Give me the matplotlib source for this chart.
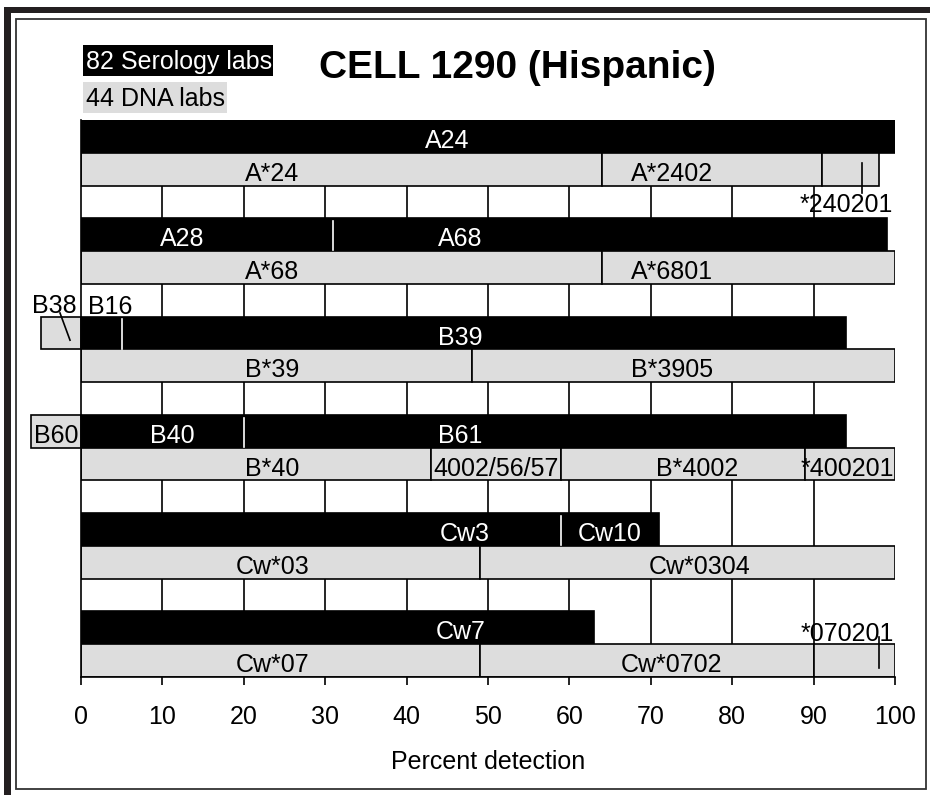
import matplotlib.pyplot as plt
from matplotlib.patches import Rectangle

plt.rcParams['font.family'] = ['Liberation Sans', 'DejaVu Sans']

W, H = 930, 795
GRAY = '#dddddd'
LW = 1.2
FS = 18

ticks = list(range(0, 101, 10))

# serology rows (black bars): band index, segment edges, labels, label x
sero_band = [0, 3, 6, 9, 12, 15]
sero_edges = [[0, 100], [0, 31, 99], [0, 5, 94], [0, 20, 94], [0, 59, 71], [0, 63]]
sero_labels = [["A24"], ["A28", "A68"], ["", "B39"], ["B40", "B61"], ["Cw3", "Cw10"], ["Cw7"]]
sero_label_x = [[45], [12.4, 46.6], [0, 46.6], [11.2, 46.6], [47.2, 65], [46.6]]

# DNA rows (grey bars)
dna_band = [1, 4, 7, 10, 13, 16]
dna_edges = [[0, 64, 91, 98], [0, 64, 100], [0, 48, 100], [0, 43, 59, 89, 100],
             [0, 49, 100], [0, 49, 90, 100]]
dna_labels = [["A*24", "A*2402", ""], ["A*68", "A*6801"], ["B*39", "B*3905"],
              ["B*40", "4002/56/57", "B*4002", "*400201"], ["Cw*03", "Cw*0304"],
              ["Cw*07", "Cw*0702", ""]]
dna_label_x = [[23.5, 72.6, 0], [23.5, 72.6], [23.5, 72.6], [23.5, 51, 75.7, 94.2],
               [23.5, 76], [23.5, 72.6, 0]]

# small grey boxes left of zero
side_band = [6, 9]
side_start = [-4.9, -6.2]
side_labels = ["", "B60"]

# labels outside the bars, and their leader lines
out_labels = ["*240201", "B38", "B16", "*070201"]
out_x = [94, -3.3, 3.6, 94.2]
out_y = [2.6, 5.67, 5.72, 15.7]
leader_x = [(96, 96), (-2.58, -1.35), (98, 98)]
leader_y = [(1.31, 2.23), (5.89, 6.72), (15.78, 16.73)]

fig = plt.figure(figsize=(W / 100, H / 100), dpi=100)

def fx(px):
    return px / W

def fy(py):
    return 1 - py / H

# frame
fig.add_artist(Rectangle((fx(4), fy(13)), fx(926), 6 / H, transform=fig.transFigure,
                         facecolor='#231f20', edgecolor='none'))
fig.add_artist(Rectangle((fx(4), 0), 7 / W, fy(7), transform=fig.transFigure,
                         facecolor='#231f20', edgecolor='none'))
fig.add_artist(Rectangle((fx(16), fy(789)), fx(910), 770 / H, transform=fig.transFigure,
                         facecolor='none', edgecolor='#333333', linewidth=1.3))

ax = fig.add_axes([fx(81), fy(677), fx(814), 557 / H])
ax.set_xlim(0, 100)
ax.set_ylim(17, 0)

ax.vlines(ticks[1:-1], 0, 17, colors='black', linewidth=LW, zorder=0)

for band, edges, labs, lx in zip(sero_band, sero_edges, sero_labels, sero_label_x):
    ax.barh(band + 0.5, edges[-1] - edges[0], left=edges[0], height=1, color='black',
            edgecolor='black', linewidth=LW, zorder=2)
    for e in edges[1:-1]:
        ax.plot([e, e], [band + 0.08, band + 0.98], color='white', linewidth=LW, zorder=3)
    for t, x in zip(labs, lx):
        if t:
            ax.text(x, band + 0.64, t, color='white', fontsize=FS, ha='center', va='center', zorder=4)

for band, edges, labs, lx in zip(dna_band, dna_edges, dna_labels, dna_label_x):
    for i in range(len(edges) - 1):
        ax.barh(band + 0.5, edges[i + 1] - edges[i], left=edges[i], height=1, color=GRAY,
                edgecolor='black', linewidth=LW, zorder=2)
    for t, x in zip(labs, lx):
        if t:
            ax.text(x, band + 0.64, t, color='black', fontsize=FS, ha='center', va='center', zorder=4)

for band, s, t in zip(side_band, side_start, side_labels):
    ax.barh(band + 0.5, -s, left=s, height=1, color=GRAY, edgecolor='black',
            linewidth=LW, zorder=2, clip_on=False)
    if t:
        ax.text(s / 2, band + 0.64, t, fontsize=FS, ha='center', va='center', clip_on=False)

for t, x, y in zip(out_labels, out_x, out_y):
    ax.text(x, y, t, fontsize=FS, ha='center', va='center', zorder=5, clip_on=False)

for xs, ys in zip(leader_x, leader_y):
    ax.plot(xs, ys, color='black', linewidth=LW, zorder=5, clip_on=False)

ax.spines['top'].set_visible(False)
ax.spines['right'].set_visible(False)
ax.spines['left'].set_linewidth(LW)
ax.spines['bottom'].set_linewidth(LW)
ax.set_yticks([])
ax.set_xticks(ticks)
ax.tick_params(axis='x', length=6, width=LW, pad=14, labelsize=FS)
ax.set_xlabel('Percent detection', fontsize=FS, labelpad=15)

# legend boxes and title
fig.add_artist(Rectangle((fx(83), fy(76)), 190 / W, 31 / H, transform=fig.transFigure,
                         facecolor='black', edgecolor='none'))
fig.text(fx(86), fy(62), '82 Serology labs', color='white', fontsize=FS, va='center')
fig.add_artist(Rectangle((fx(83), fy(113)), 144 / W, 31 / H, transform=fig.transFigure,
                         facecolor=GRAY, edgecolor='none'))
fig.text(fx(86), fy(98.5), '44 DNA labs', color='black', fontsize=FS, va='center')
fig.text(fx(517), fy(68), 'CELL 1290 (Hispanic)', fontsize=28, fontweight='bold',
         ha='center', va='center')

fig.savefig('out.png', dpi=100)
